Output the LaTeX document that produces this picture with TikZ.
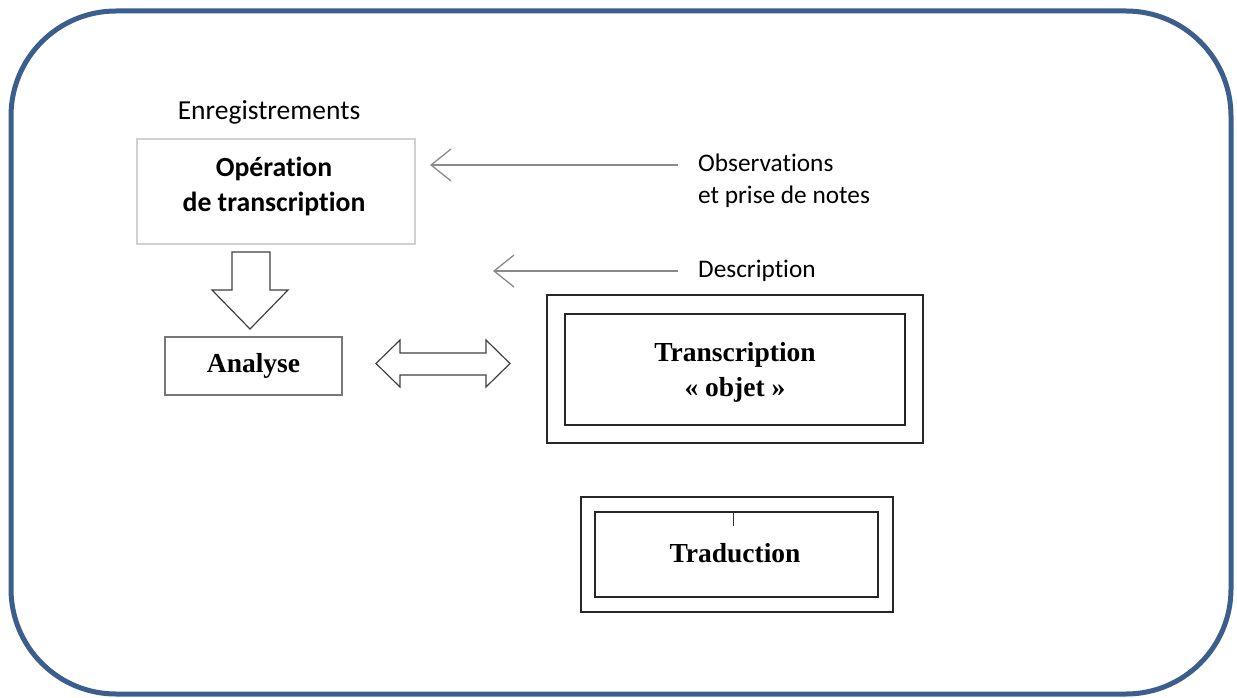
\documentclass[tikz,border=0pt]{standalone}
\usepackage{fontspec}
\setmainfont{Liberation Serif}
\newfontfamily\calfont[Ligatures=NoCommon]{Carlito}
\usetikzlibrary{arrows.meta,shapes.arrows}
\definecolor{framec}{HTML}{3B5E8C}
\definecolor{lightb}{HTML}{D0D0D0}
\definecolor{midb}{HTML}{777777}
\definecolor{arrc}{HTML}{8A8A8A}
\begin{document}
\begin{tikzpicture}[x=1pt,y=-1pt,
  caltext/.style={font=\calfont\fontsize{25.3}{34}\selectfont, inner sep=0pt},
  calbold/.style={font=\calfont\bfseries\fontsize{27.7}{35}\selectfont, align=center, inner sep=0pt},
  timesbold/.style={font=\bfseries\fontsize{27.5}{35}\selectfont, align=center, inner sep=0pt},
  thinarrow/.style={draw=arrc, line width=1.3pt, -{Straight Barb[length=20pt,width=32pt,line width=1.3pt]}},
  blockarrow/.style={draw=black!75, line width=1.2pt, fill=white, line join=miter},
  dblbox/.style={draw=black!85, line width=1.8pt}
]
\useasboundingbox (0,0) rectangle (1237,698);
% frame
\draw[framec, line width=5pt, rounded corners=105pt] (11,11) rectangle (1231,694);

% Operation box
\node[draw=lightb, line width=1.2pt, minimum width=278pt, minimum height=105pt, inner sep=0pt] (op) at (276,191.5) {};
\node[calbold] (optext) at (274,186) {Opération\\de transcription};
\node[caltext, font=\calfont\fontsize{27.5}{30}\selectfont] (enreg) at (269,112) {Enregistrements};

% Analyse box
\node[draw=midb, line width=1.3pt, minimum width=177pt, minimum height=58pt, inner sep=0pt, timesbold] (an) at (253.5,366) {Analyse};

% down block arrow
\draw[blockarrow] (232,252) -- (270,252) -- (270,290) -- (288,290) -- (250,329) -- (212,290) -- (232,290) -- cycle;

% double block arrow
\draw[blockarrow] (376,363.5) -- (400,340) -- (400,353) -- (486,353) -- (486,340) -- (510,363.5) -- (486,387) -- (486,375) -- (400,375) -- (400,387) -- cycle;

% Transcription objet
\node[dblbox, minimum width=376pt, minimum height=148pt, inner sep=0pt] (trout) at (735,369) {};
\node[dblbox, minimum width=340pt, minimum height=111pt, inner sep=0pt] (trin) at (735,369.5) {};
\node[timesbold] (trtext) at (735,372) {Transcription\\« objet »};

% Traduction
\node[dblbox, minimum width=312pt, minimum height=115pt, inner sep=0pt] (tdout) at (737,554.5) {};
\node[dblbox, minimum width=283pt, minimum height=85pt, inner sep=0pt] (tdin) at (736.5,554.5) {};
\node[timesbold] (tdtext) at (735,553) {Traduction};
\coordinate (tick) at (733,526);
\draw[black!80, line width=1pt] (tdin.north -| tick) -- (tick);

% labels and thin arrows
\node[caltext, anchor=west] (obs1) at (698,163) {Observations};
\node[caltext, anchor=west] (obs2) at (698,197) {et prise de notes};
\node[caltext, anchor=west] (desc) at (698,271) {Description};
\coordinate (obstip) at (430,165);
\coordinate (desctip) at (493,271);
\coordinate (obsstart) at (678,165);
\coordinate (descstart) at (678,271);
\draw[thinarrow] (obsstart) -- (obstip);
\draw[thinarrow] (descstart) -- (desctip);
\end{tikzpicture}
\end{document}
